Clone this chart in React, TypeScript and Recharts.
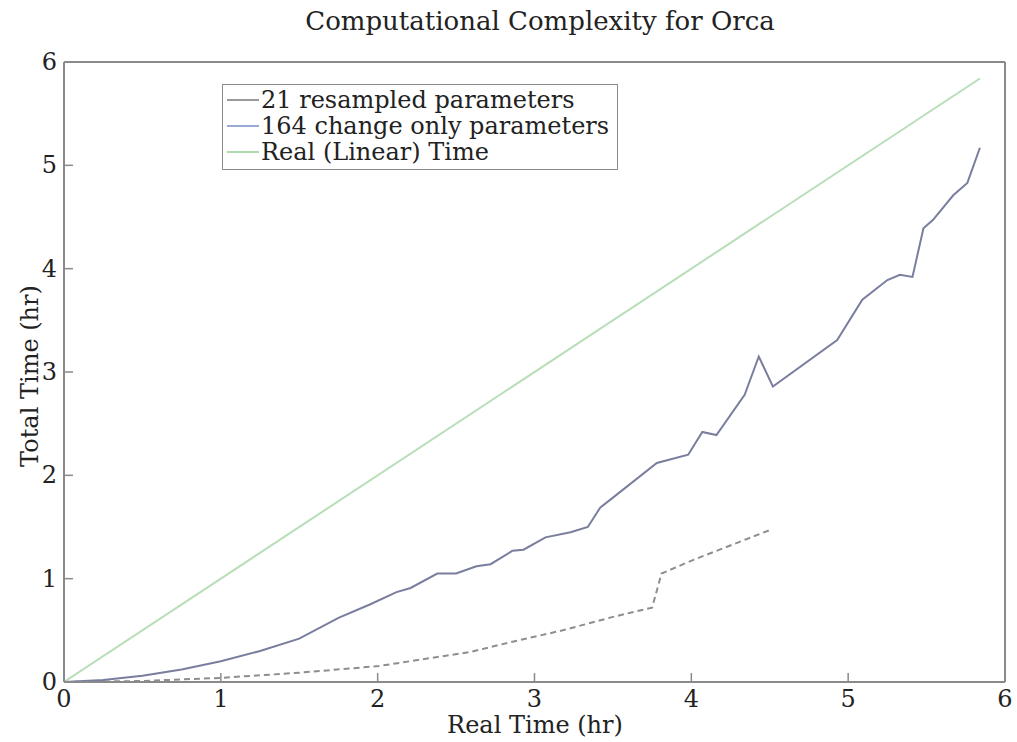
import React from "react";
import { LineChart, Line, XAxis, YAxis } from "recharts";

// 164 change only parameters (solid)
const changeOnlyReal = [0, 0.25, 0.5, 0.75, 1.0, 1.25, 1.5, 1.75, 1.95, 2.12, 2.21, 2.38, 2.5, 2.63, 2.72, 2.86, 2.93, 3.07, 3.23, 3.34, 3.42, 3.48, 3.78, 3.98, 4.07, 4.16, 4.34, 4.43, 4.52, 4.93, 5.09, 5.25, 5.33, 5.41, 5.48, 5.54, 5.67, 5.76, 5.84];
const changeOnlyTotal = [0, 0.02, 0.06, 0.12, 0.2, 0.3, 0.42, 0.62, 0.75, 0.87, 0.91, 1.05, 1.05, 1.12, 1.14, 1.27, 1.28, 1.4, 1.45, 1.5, 1.69, 1.76, 2.12, 2.2, 2.42, 2.39, 2.78, 3.15, 2.86, 3.31, 3.7, 3.89, 3.94, 3.92, 4.39, 4.47, 4.71, 4.83, 5.17];

// 21 resampled parameters (dashed)
const resampledReal = [0, 0.5, 1.0, 1.5, 2.01, 2.33, 2.59, 2.86, 3.18, 3.5, 3.75, 3.81, 4.01, 4.5];
const resampledTotal = [0, 0.01, 0.04, 0.09, 0.155, 0.23, 0.29, 0.39, 0.5, 0.63, 0.72, 1.05, 1.18, 1.47];

// real (linear) time
const linearReal = [0, 5.84];
const linearTotal = [0, 5.84];

const xTicks = [0, 1, 2, 3, 4, 5, 6];
const yTicks = [0, 1, 2, 3, 4, 5, 6];

const toPoints = (xs: number[], ys: number[]) => xs.map((x, i) => ({ x, y: ys[i] }));

const changeOnlyData = toPoints(changeOnlyReal, changeOnlyTotal);
const resampledData = toPoints(resampledReal, resampledTotal);
const linearData = toPoints(linearReal, linearTotal);

const FONT = "'DejaVu Serif', serif";
const TEXT = "#222";
const FRAME = "#8a8a8a";
const TICK_LEN = 9;

const colors = {
  resampled: "#8e8e8e",
  changeOnly: "#7a7e9e",
  linear: "#b8deb8",
};

const legendItems = [
  { label: "21 resampled parameters", color: "#9a9a9a" },
  { label: "164 change only parameters", color: "#9aaad6" },
  { label: "Real (Linear) Time", color: "#aed8ae" },
];

const BottomTick = (props: any) => {
  const { x, y, payload } = props;
  return (
    <g>
      {payload.value !== 0 && payload.value !== 6 && (
        <line x1={x} y1={y} x2={x} y2={y - TICK_LEN} stroke={FRAME} strokeWidth={1.5} />
      )}
      <text x={x} y={y + 25} textAnchor="middle" fontFamily={FONT} fontSize={24} fill={TEXT}>
        {payload.value}
      </text>
    </g>
  );
};

const LeftTick = (props: any) => {
  const { x, y, payload } = props;
  return (
    <g>
      {payload.value !== 0 && payload.value !== 6 && (
        <line x1={x} y1={y} x2={x + TICK_LEN} y2={y} stroke={FRAME} strokeWidth={1.5} />
      )}
      <text x={x - 7} y={y + 8} textAnchor="end" fontFamily={FONT} fontSize={24} fill={TEXT}>
        {payload.value}
      </text>
    </g>
  );
};

const TopTick = (props: any) => {
  const { x, y, payload } = props;
  if (payload.value === 0 || payload.value === 6) return <g />;
  return <line x1={x} y1={y} x2={x} y2={y + TICK_LEN} stroke={FRAME} strokeWidth={1.5} />;
};

const RightTick = (props: any) => {
  const { x, y, payload } = props;
  if (payload.value === 0 || payload.value === 6) return <g />;
  return <line x1={x} y1={y} x2={x - TICK_LEN} y2={y} stroke={FRAME} strokeWidth={1.5} />;
};

export default function App() {
  return (
    <div style={{ position: "absolute", left: 0, top: 0, width: 1017, height: 742, background: "#fff" }}>
      <LineChart
        width={1017}
        height={742}
        margin={{ top: 56, right: 6, bottom: 30, left: 24 }}
      >
        <XAxis
          xAxisId="bottom"
          type="number"
          dataKey="x"
          domain={[0, 6]}
          ticks={xTicks}
          height={30}
          tickSize={0}
          tickMargin={0}
          tick={<BottomTick />}
          axisLine={{ stroke: FRAME, strokeWidth: 2 }}
          allowDataOverflow
        />
        <XAxis
          xAxisId="top"
          orientation="top"
          type="number"
          dataKey="x"
          domain={[0, 6]}
          ticks={xTicks}
          height={6}
          tickSize={0}
          tickMargin={0}
          tick={<TopTick />}
          axisLine={{ stroke: FRAME, strokeWidth: 2 }}
        />
        <YAxis
          yAxisId="left"
          type="number"
          dataKey="y"
          domain={[0, 6]}
          ticks={yTicks}
          width={40}
          tickSize={0}
          tickMargin={0}
          tick={<LeftTick />}
          axisLine={{ stroke: FRAME, strokeWidth: 2 }}
        />
        <YAxis
          yAxisId="right"
          orientation="right"
          type="number"
          dataKey="y"
          domain={[0, 6]}
          ticks={yTicks}
          width={6}
          tickSize={0}
          tickMargin={0}
          tick={<RightTick />}
          axisLine={{ stroke: FRAME, strokeWidth: 2 }}
        />
        <Line
          xAxisId="bottom"
          yAxisId="left"
          data={linearData}
          dataKey="y"
          name="Real (Linear) Time"
          stroke={colors.linear}
          strokeWidth={2}
          dot={false}
          isAnimationActive={false}
        />
        <Line
          xAxisId="bottom"
          yAxisId="left"
          data={resampledData}
          dataKey="y"
          name="21 resampled parameters"
          stroke={colors.resampled}
          strokeWidth={2}
          strokeDasharray="6 4"
          dot={false}
          isAnimationActive={false}
        />
        <Line
          xAxisId="bottom"
          yAxisId="left"
          data={changeOnlyData}
          dataKey="y"
          name="164 change only parameters"
          stroke={colors.changeOnly}
          strokeWidth={2}
          dot={false}
          isAnimationActive={false}
        />
      </LineChart>

      {/* title and axis labels */}
      <div
        style={{
          position: "absolute",
          top: 6,
          left: 0,
          width: 1080,
          textAlign: "center",
          fontFamily: FONT,
          fontSize: 26,
          color: TEXT,
        }}
      >
        Computational Complexity for Orca
      </div>
      <div
        style={{
          position: "absolute",
          top: 710,
          left: 0,
          width: 1070,
          textAlign: "center",
          fontFamily: FONT,
          fontSize: 24,
          lineHeight: "30px",
          color: TEXT,
        }}
      >
        Real Time (hr)
      </div>
      <div
        style={{
          position: "absolute",
          left: 30,
          top: 376,
          transform: "translate(-50%, -50%) rotate(-90deg)",
          whiteSpace: "nowrap",
          fontFamily: FONT,
          fontSize: 24,
          color: TEXT,
        }}
      >
        Total Time (hr)
      </div>

      {/* legend box */}
      <div
        style={{
          position: "absolute",
          left: 222,
          top: 84,
          width: 396,
          height: 86,
          border: "1.5px solid " + FRAME,
          background: "#fff",
          boxSizing: "border-box",
          paddingTop: 2,
        }}
      >
        {legendItems.map((item) => (
          <div
            key={item.label}
            style={{ display: "flex", alignItems: "center", height: 26, fontFamily: FONT, fontSize: 24, color: TEXT, whiteSpace: "nowrap" }}
          >
            <span style={{ display: "inline-block", width: 32, height: 2, background: item.color, marginLeft: 4, marginRight: 2 }} />
            <span>{item.label}</span>
          </div>
        ))}
      </div>
    </div>
  );
}
